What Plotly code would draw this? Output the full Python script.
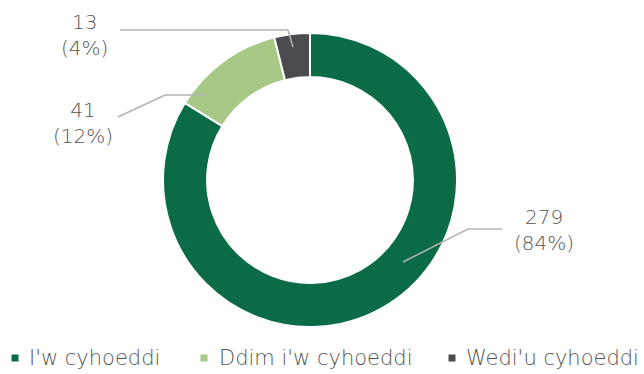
import plotly.graph_objects as go

# Publication status of items
categories = ["I'w cyhoeddi", "Ddim i'w cyhoeddi", "Wedi'u cyhoeddi"]
counts = [279, 41, 13]
colors = ["#0b6b47", "#a8c886", "#4b4b50"]

W, H = 644, 374
TEXT_COLOR = "#555555"
FONT = "DejaVu Sans"


def px(x, y):
    """Pixel position -> paper coordinates."""
    return x / W, 1 - y / H


total = sum(counts)
pcts = [round(c / total * 100) for c in counts]

fig = go.Figure()

# Donut ring
x0, y0 = px(163, 327)
x1, y1 = px(457, 33)
fig.add_trace(go.Pie(
    labels=categories,
    values=counts,
    marker=dict(colors=colors, line=dict(color="white", width=2)),
    hole=0.70,
    sort=False,
    direction="clockwise",
    rotation=0,
    textinfo="none",
    hoverinfo="label+value+percent",
    showlegend=False,
    domain=dict(x=[x0, x1], y=[y0, y1]),
))

shapes = []
annotations = []

# Value labels with leader lines (label centre, leader polyline)
label_layout = [
    ((544, 230), [(403, 262), (468, 229), (502, 229)]),   # 279
    ((83, 123), [(118, 117), (165, 95), (208, 95)]),      # 41
    ((84, 35), [(120, 30), (288, 30), (293, 47)]),        # 13
]
for (count, pct), ((lx, ly), pts) in zip(zip(counts, pcts), label_layout):
    ax, ay = px(lx, ly)
    annotations.append(dict(
        x=ax, y=ay, xref="paper", yref="paper",
        text=f"{count}<br>({pct}%)", showarrow=False,
        xanchor="center", yanchor="middle", align="center",
        font=dict(family=FONT, size=20, color=TEXT_COLOR, weight=200),
    ))
    path = ""
    for i, (x, y) in enumerate(pts):
        qx, qy = px(x, y)
        path += ("M" if i == 0 else "L") + f"{qx},{qy} "
    shapes.append(dict(type="path", path=path.strip(), xref="paper", yref="paper",
                       line=dict(color="#b3b3b3", width=1.5)))

# Legend row: square swatch + text
legend_pos = [(15, 27), (204, 217), (452, 464)]
ly = 358
for name, col, (mx, tx) in zip(categories, colors, legend_pos):
    sx0, sy0 = px(mx - 3.5, ly + 3.5)
    sx1, sy1 = px(mx + 3.5, ly - 3.5)
    shapes.append(dict(type="rect", x0=sx0, x1=sx1, y0=sy0, y1=sy1,
                       xref="paper", yref="paper",
                       fillcolor=col, line=dict(width=0)))
    tx_p, ty_p = px(tx, ly)
    annotations.append(dict(
        x=tx_p, y=ty_p, xref="paper", yref="paper", text=name,
        showarrow=False, xanchor="left", yanchor="middle",
        font=dict(family=FONT, size=21, color=TEXT_COLOR, weight=200),
    ))

fig.update_layout(
    width=W, height=H,
    margin=dict(l=0, r=0, t=0, b=0),
    paper_bgcolor="white", plot_bgcolor="white",
    shapes=shapes, annotations=annotations,
)

fig.write_html("out.html")
